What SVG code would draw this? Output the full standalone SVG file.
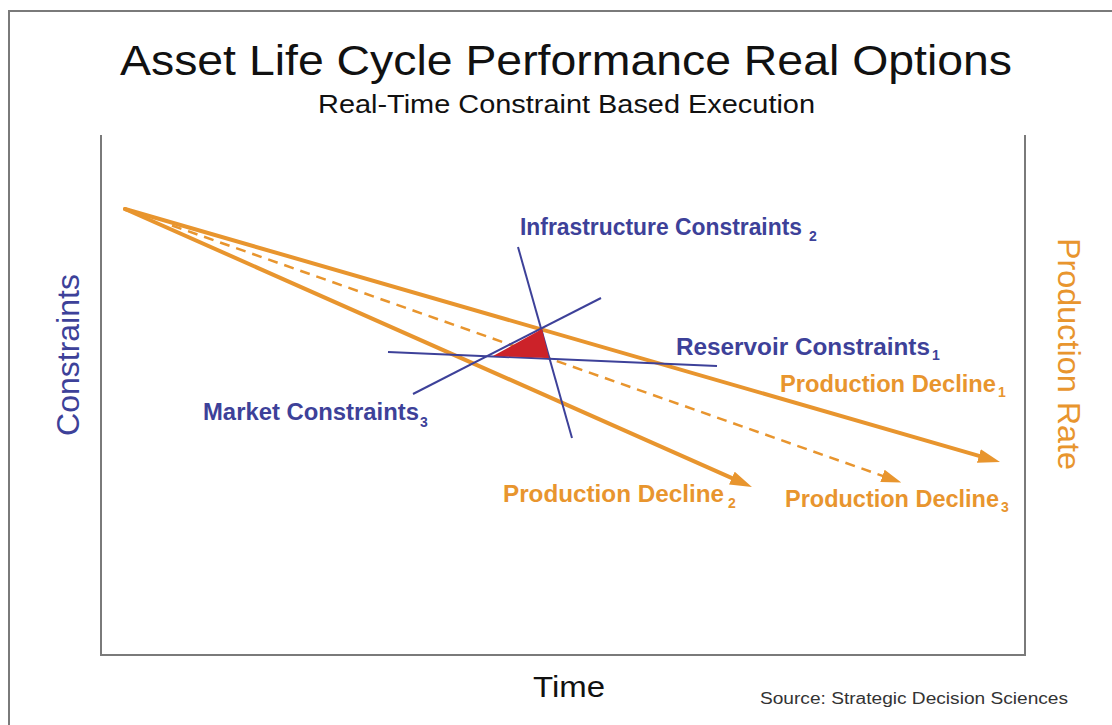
<svg xmlns="http://www.w3.org/2000/svg" width="1112" height="725" viewBox="0 0 1112 725">
  <style>
    .frame { fill: none; stroke: #7a7a7a; stroke-width: 2; }
    .prod { fill: none; stroke: #E8952E; stroke-width: 4; stroke-linecap: round; }
    .prod-dash { fill: none; stroke: #E8952E; stroke-width: 2.5; stroke-dasharray: 10 7; }
    .cons { fill: none; stroke: #3D4199; stroke-width: 2; }
    .title { font-family: "Liberation Sans", Arial, sans-serif; fill: #111; }
    .lbl-blue { font-family: "Liberation Sans", Arial, sans-serif; font-weight: bold; font-size: 23px; fill: #3D4199; }
    .lbl-orange { font-family: "Liberation Sans", Arial, sans-serif; font-weight: bold; font-size: 23px; fill: #E8952E; }
    .sub { font-family: "Liberation Sans", Arial, sans-serif; font-weight: bold; font-size: 14px; }
  </style>
  <defs>
    <marker id="arrow" viewBox="0 0 22 14" markerWidth="22" markerHeight="14" refX="10" refY="7" orient="auto" markerUnits="userSpaceOnUse">
      <path d="M0,0 L22,7 L0,14 z" fill="#E8952E"/>
    </marker>
    <marker id="arrow-sm" viewBox="0 0 20 13" markerWidth="20" markerHeight="13" refX="8" refY="6.5" orient="auto" markerUnits="userSpaceOnUse">
      <path d="M0,0 L20,6.5 L0,13 z" fill="#E8952E"/>
    </marker>
  </defs>

  <rect width="1112" height="725" fill="#ffffff"/>

  <!-- outer border -->
  <path class="frame" d="M9,725 V11 H1112"/>

  <!-- plot area (open top) -->
  <path class="frame" d="M101,135 V655 H1025 V135"/>

  <!-- headings -->
  <text class="title" x="120" y="75" font-size="42" textLength="892" lengthAdjust="spacingAndGlyphs">Asset Life Cycle Performance Real Options</text>
  <text class="title" x="318" y="113" font-size="25" textLength="497" lengthAdjust="spacingAndGlyphs">Real-Time Constraint Based Execution</text>

  <!-- axis titles -->
  <text class="title" x="533" y="697" font-size="30" textLength="72" lengthAdjust="spacingAndGlyphs">Time</text>
  <text x="79" y="355" font-family="Liberation Sans, Arial, sans-serif" font-size="32" fill="#3D4199" text-anchor="middle" transform="rotate(-90 79 355)">Constraints</text>
  <text x="1058" y="354" font-family="Liberation Sans, Arial, sans-serif" font-size="32" fill="#E8952E" text-anchor="middle" textLength="232" lengthAdjust="spacingAndGlyphs" transform="rotate(90 1058 354)">Production Rate</text>
  <text x="760" y="704" font-family="Liberation Sans, Arial, sans-serif" font-size="16" fill="#333" textLength="308" lengthAdjust="spacingAndGlyphs">Source: Strategic Decision Sciences</text>

  <!-- connectors -->
  <g id="connectors">
    <line id="decline-1" class="prod" x1="125" y1="209" x2="988.5" y2="458.7" marker-end="url(#arrow)"/>
    <line id="decline-2" class="prod" x1="125" y1="209" x2="741" y2="482.1" marker-end="url(#arrow)"/>
    <line id="decline-3" class="prod-dash" x1="172" y1="225.5" x2="890" y2="478.5" marker-end="url(#arrow-sm)"/>
    <line id="infrastructure" class="cons" x1="518" y1="247" x2="572" y2="438"/>
    <line id="market" class="cons" x1="413" y1="394" x2="601" y2="298"/>
    <line id="reservoir" class="cons" x1="388" y1="352" x2="717" y2="366"/>
  </g>

  <!-- feasible region -->
  <g id="feasible-region">
    <polygon points="493,356 542,329 549,358" fill="#CC2229"/>
  </g>

  <!-- labels -->
  <g id="label-infrastructure" fill="#3D4199">
    <text class="lbl-blue" x="520" y="235" textLength="282" lengthAdjust="spacingAndGlyphs">Infrastructure Constraints</text>
    <text class="sub" x="809" y="241">2</text>
  </g>
  <g id="label-reservoir" fill="#3D4199">
    <text class="lbl-blue" x="676" y="355" textLength="254" lengthAdjust="spacingAndGlyphs">Reservoir Constraints</text>
    <text class="sub" x="932" y="360">1</text>
  </g>
  <g id="label-market" fill="#3D4199">
    <text class="lbl-blue" x="203" y="420" textLength="216" lengthAdjust="spacingAndGlyphs">Market Constraints</text>
    <text class="sub" x="420" y="427">3</text>
  </g>
  <g id="label-decline-1" fill="#E8952E">
    <text class="lbl-orange" x="780" y="392" textLength="216" lengthAdjust="spacingAndGlyphs">Production Decline</text>
    <text class="sub" x="998" y="397">1</text>
  </g>
  <g id="label-decline-2" fill="#E8952E">
    <text class="lbl-orange" x="503" y="502" textLength="221" lengthAdjust="spacingAndGlyphs">Production Decline</text>
    <text class="sub" x="728" y="508">2</text>
  </g>
  <g id="label-decline-3" fill="#E8952E">
    <text class="lbl-orange" x="785" y="507" textLength="214" lengthAdjust="spacingAndGlyphs">Production Decline</text>
    <text class="sub" x="1001" y="512">3</text>
  </g>
</svg>
